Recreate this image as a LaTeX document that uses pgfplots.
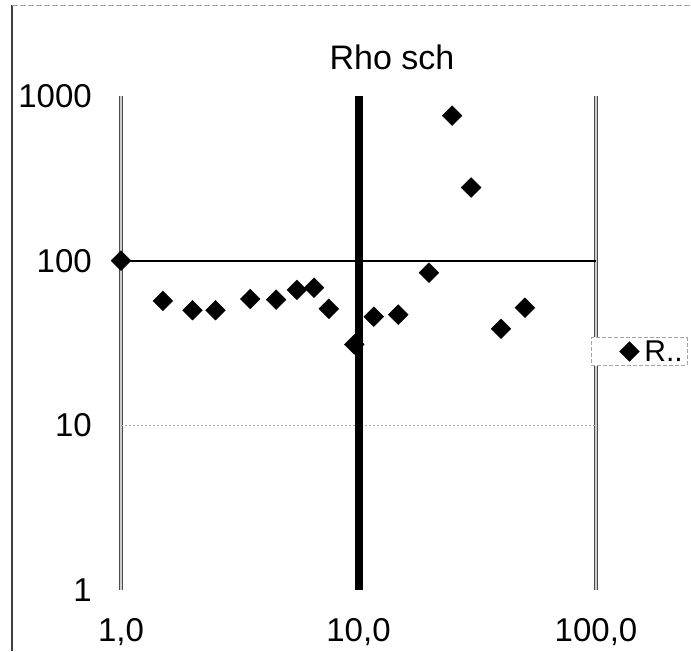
\documentclass[border=0pt]{standalone}
\usepackage{fontspec}
\setmainfont{Liberation Sans}
\usepackage{pgfplots}
\pgfplotsset{compat=1.18}
\begin{document}
\begin{tikzpicture}[x=1pt,y=1pt]
\useasboundingbox (0,0) rectangle (691,651);
\fill[white] (0,0) rectangle (691,651);
\draw[black!75, line width=1.2pt] (12,0) -- (12,646);
\draw[gray!70, line width=0.8pt, dash pattern=on 6pt off 2pt] (12,646) -- (691,646);
\node[font=\fontsize{34}{40}\selectfont] at (392,594) {Rho sch};
\begin{axis}[
  at={(121pt,61pt)}, anchor=south west,
  scale only axis, width=475pt, height=494pt,
  xmode=log, ymode=log,
  xmin=1, xmax=100, ymin=1, ymax=1000,
  axis line style={draw=none},
  major tick length=0pt, minor tick length=0pt,
  xtick={1,10,100}, xticklabels={{1,0},{10,0},{100,0}},
  ytick={1,10,100,1000}, yticklabels={1,10,100,1000},
  ticklabel style={font=\fontsize{33}{37}\selectfont, inner sep=0pt},
  yticklabel style={xshift=-29pt},
  xticklabel style={yshift=-28pt},
  /pgf/number format/assume math mode=true,
  clip=false,
  legend style={at={(1.1916,0.4828)}, anchor=east, draw=gray!70,
    dash pattern=on 4pt off 2pt, fill=white, inner xsep=4pt, inner ysep=3pt,
    font=\fontsize{30}{34}\selectfont,
    nodes={inner sep=0pt}},
  legend image code/.code={%
    \path[draw=none,fill=none] (-34pt,0pt) rectangle (15pt,0pt);
    \draw[#1] plot coordinates {(0pt,0pt)};},
]
\draw[black!70, line width=1pt, double=gray!40, double distance=2.5pt] (axis cs:1,1) -- (axis cs:1,1000);
\draw[black!70, line width=1pt, double=gray!40, double distance=2.5pt] (axis cs:100,1) -- (axis cs:100,1000);
\draw[gray!70, line width=1pt, dash pattern=on 2pt off 2pt] (axis cs:1,10) -- (axis cs:100,10);
\draw[black, line width=2pt] (axis cs:1,100) -- (axis cs:100,100);
\addplot[only marks, mark=square*, mark size=7pt, mark options={rotate=45, fill=black, draw=black}] coordinates {
(1,100) (1.5,57) (2,50) (2.5,50) (3.5,58.5) (4.5,58) (5.5,66.5) (6.5,68.5)
(7.5,51) (9.6,31) (11.6,45.7) (14.7,47) (19.8,84.5) (24.8,760) (29.8,278)
(39.8,38.6) (50.2,51.8)};
\addlegendentry{R..}
\draw[black, line width=8pt] (axis cs:10,1) -- (axis cs:10,1000);
\end{axis}
\end{tikzpicture}
\end{document}
